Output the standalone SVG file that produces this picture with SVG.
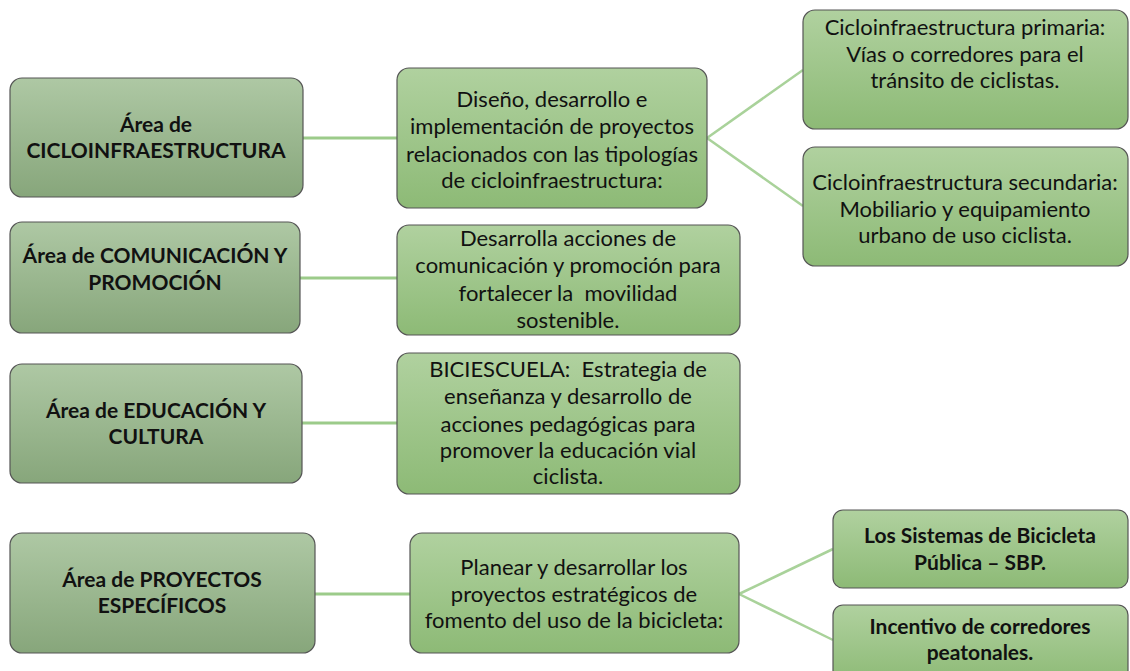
<svg xmlns="http://www.w3.org/2000/svg" width="1130" height="671" viewBox="0 0 1130 671">
<defs>
<linearGradient id="gL" x1="0" y1="0" x2="0" y2="1"><stop offset="0" stop-color="#aec8a4"/><stop offset="1" stop-color="#87a67b"/></linearGradient>
<linearGradient id="gM" x1="0" y1="0" x2="0" y2="1"><stop offset="0" stop-color="#b0d19f"/><stop offset="1" stop-color="#8dba76"/></linearGradient>
<style>
.bl{fill:url(#gL);stroke:#555;stroke-width:1.2}
.bm{fill:url(#gM);stroke:#555;stroke-width:1.2}
.t{font-family:Lato,"Liberation Sans",sans-serif;font-size:22px;fill:#111;text-anchor:middle;white-space:pre}
.b{font-weight:bold;font-size:21px}
.c{stroke:#9ccb8a;stroke-width:3;fill:none}
.d{stroke:#a9d29a;stroke-width:2.5;fill:none}
</style>
</defs>
<rect width="1130" height="671" fill="#fff"/>
<g id="connectors">
<line class="c" x1="303" y1="138" x2="397" y2="138"/>
<line class="c" x1="300" y1="278" x2="397" y2="278"/>
<line class="c" x1="302" y1="423" x2="397" y2="423"/>
<line class="c" x1="315" y1="594" x2="410" y2="594"/>
<line class="d" x1="707" y1="138" x2="803" y2="70"/>
<line class="d" x1="707" y1="138" x2="803" y2="206"/>
<line class="d" x1="739" y1="594" x2="833" y2="549"/>
<line class="d" x1="739" y1="594" x2="833" y2="640"/>
</g>
<g id="n1"><rect class="bl" x="10" y="78" width="293" height="119" rx="12"/>
<text class="t b" x="156" y="132">Área de</text><text class="t b" x="156" y="158">CICLOINFRAESTRUCTURA</text></g>
<g id="n2"><rect class="bl" x="10" y="222" width="290" height="111" rx="12"/>
<text class="t b" x="155" y="263">Área de COMUNICACIÓN Y</text><text class="t b" x="155" y="290">PROMOCIÓN</text></g>
<g id="n3"><rect class="bl" x="10" y="364" width="292" height="119" rx="12"/>
<text class="t b" x="156" y="418">Área de EDUCACIÓN Y</text><text class="t b" x="156" y="444">CULTURA</text></g>
<g id="n4"><rect class="bl" x="10" y="533" width="305" height="120" rx="12"/>
<text class="t b" x="162" y="587">Área de PROYECTOS</text><text class="t b" x="162" y="613">ESPECÍFICOS</text></g>
<g id="m1"><rect class="bm" x="397" y="68" width="310" height="140" rx="12"/>
<text class="t" x="552" y="107">Diseño, desarrollo e</text><text class="t" x="552" y="134">implementación de proyectos</text><text class="t" x="552" y="162">relacionados con las tipologías</text><text class="t" x="552" y="188">de cicloinfraestructura:</text></g>
<g id="m2"><rect class="bm" x="397" y="225" width="343" height="110" rx="12"/>
<text class="t" x="568" y="246">Desarrolla acciones de</text><text class="t" x="568" y="273">comunicación y promoción para</text><text class="t" x="568" y="301">fortalecer la  movilidad</text><text class="t" x="568" y="328">sostenible.</text></g>
<g id="m3"><rect class="bm" x="397" y="353" width="343" height="141" rx="12"/>
<text class="t" x="568" y="377">BICIESCUELA:  Estrategia de</text><text class="t" x="568" y="404">enseñanza y desarrollo de</text><text class="t" x="568" y="432">acciones pedagógicas para</text><text class="t" x="568" y="458">promover la educación vial</text><text class="t" x="568" y="484">ciclista.</text></g>
<g id="m4"><rect class="bm" x="410" y="533" width="329" height="120" rx="12"/>
<text class="t" x="574" y="575">Planear y desarrollar los</text><text class="t" x="574" y="602">proyectos estratégicos de</text><text class="t" x="574" y="628">fomento del uso de la bicicleta:</text></g>
<g id="r1"><rect class="bm" x="803" y="10" width="325" height="119" rx="12"/>
<text class="t" x="965" y="35">Cicloinfraestructura primaria:</text><text class="t" x="965" y="62">Vías o corredores para el</text><text class="t" x="965" y="88">tránsito de ciclistas.</text></g>
<g id="r2"><rect class="bm" x="803" y="147" width="325" height="119" rx="12"/>
<text class="t" x="965" y="190">Cicloinfraestructura secundaria:</text><text class="t" x="965" y="217">Mobiliario y equipamiento</text><text class="t" x="965" y="243">urbano de uso ciclista.</text></g>
<g id="r3"><rect class="bm" x="833" y="510" width="295" height="78" rx="10"/>
<text class="t b" x="980" y="543">Los Sistemas de Bicicleta</text><text class="t b" x="980" y="570">Pública – SBP.</text></g>
<g id="r4"><rect class="bm" x="833" y="605" width="295" height="78" rx="10"/>
<text class="t b" x="980" y="634">Incentivo de corredores</text><text class="t b" x="980" y="660">peatonales.</text></g>
</svg>
